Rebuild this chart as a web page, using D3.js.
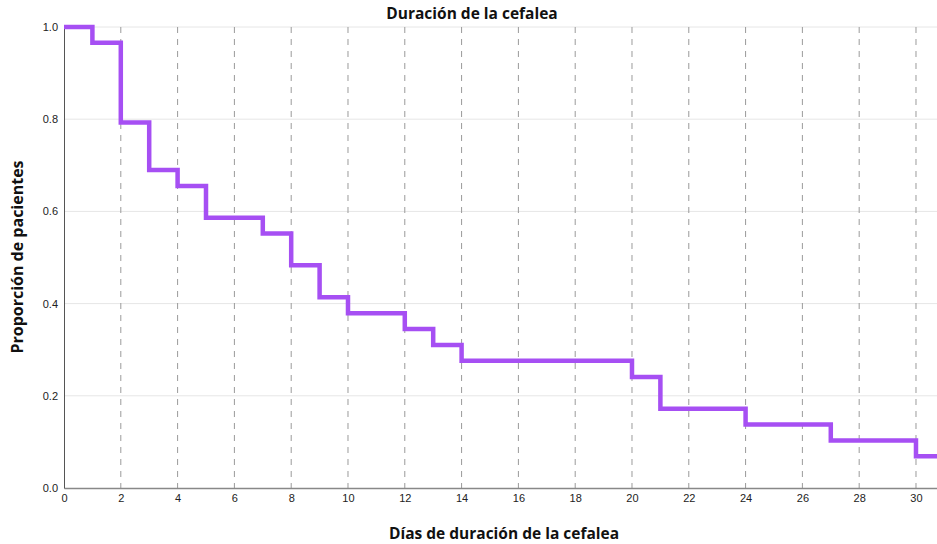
<!DOCTYPE html>
<html>
<head>
<meta charset="utf-8">
<script src="https://cdn.jsdelivr.net/npm/d3@7"></script>
<style>
  body { margin: 0; background: #fff; }
  svg { font-family: "Open Sans", sans-serif; }
  .tick text { font-size: 11px; fill: #222; }
  .grid line { stroke: #e6e6e6; }
  .vgrid line { stroke: #9a9a9a; stroke-dasharray: 6,6; }
  .title, .label { font-weight: bold; fill: #111; }
</style>
</head>
<body>
<svg width="937" height="544"></svg>
<script>
const w = 937, h = 544;
const margin = {top: 27, right: 0, bottom: 56, left: 64};

// step times (days) and survival proportion from each time onward
const days = [0, 1, 2, 3, 4, 5, 7, 8, 9, 10, 12, 13, 14, 20, 21, 24, 27, 30];
const proportion = [1.0, 0.966, 0.793, 0.690, 0.655, 0.586, 0.552, 0.483, 0.414, 0.379,
                    0.345, 0.310, 0.276, 0.241, 0.172, 0.138, 0.103, 0.069];
const xTicks = [0, 2, 4, 6, 8, 10, 12, 14, 16, 18, 20, 22, 24, 26, 28, 30];
const yTicks = [0.0, 0.2, 0.4, 0.6, 0.8, 1.0];
const xMax = 30.74;

const svg = d3.select("svg");
const x = d3.scaleLinear().domain([0, xMax]).range([margin.left, w - margin.right]);
const y = d3.scaleLinear().domain([0, 1]).range([h - margin.bottom, margin.top]);

// horizontal grid
svg.append("g").attr("class", "grid")
    .selectAll("line").data(yTicks.filter(d => d > 0)).join("line")
    .attr("x1", x(0)).attr("x2", x(xMax))
    .attr("y1", d => y(d)).attr("y2", d => y(d));

// vertical dashed grid
svg.append("g").attr("class", "vgrid")
    .selectAll("line").data(xTicks.filter(d => d > 0)).join("line")
    .attr("x1", d => x(d)).attr("x2", d => x(d))
    .attr("y1", y(1)).attr("y2", y(0));

// axes
const axisX = d3.axisBottom(x).tickValues(xTicks).tickSize(0).tickPadding(6).tickFormat(d3.format("d"));
const axisY = d3.axisLeft(y).tickValues(yTicks).tickSize(0).tickPadding(6).tickFormat(d3.format(".1f"));

const gx = svg.append("g").attr("transform", `translate(0,${y(0)})`).call(axisX);
gx.select(".domain").attr("stroke", "#888").attr("stroke-width", 1.5);
const gy = svg.append("g").attr("transform", `translate(${x(0)},0)`).call(axisY);
gy.select(".domain").attr("stroke", "#555");

// step line
const pts = days.map((d, i) => [d, proportion[i]]);
pts.push([xMax, proportion[proportion.length - 1]]);
const line = d3.line().x(d => x(d[0])).y(d => y(d[1])).curve(d3.curveStepAfter);
svg.append("path")
    .attr("d", line(pts))
    .attr("fill", "none")
    .attr("stroke", "#a64ff3")
    .attr("stroke-width", 4.5)
    .attr("stroke-linejoin", "miter");

// titles
svg.append("text").attr("class", "title")
    .attr("x", 472).attr("y", 19).attr("text-anchor", "middle")
    .style("font-size", "15.5px")
    .text("Duración de la cefalea");
svg.append("text").attr("class", "label")
    .attr("x", 504).attr("y", 539).attr("text-anchor", "middle")
    .style("font-size", "15.5px")
    .text("Días de duración de la cefalea");
svg.append("text").attr("class", "label")
    .attr("transform", `translate(23,257) rotate(-90)`).attr("text-anchor", "middle")
    .style("font-size", "16px")
    .text("Proporción de pacientes");
</script>
</body>
</html>
